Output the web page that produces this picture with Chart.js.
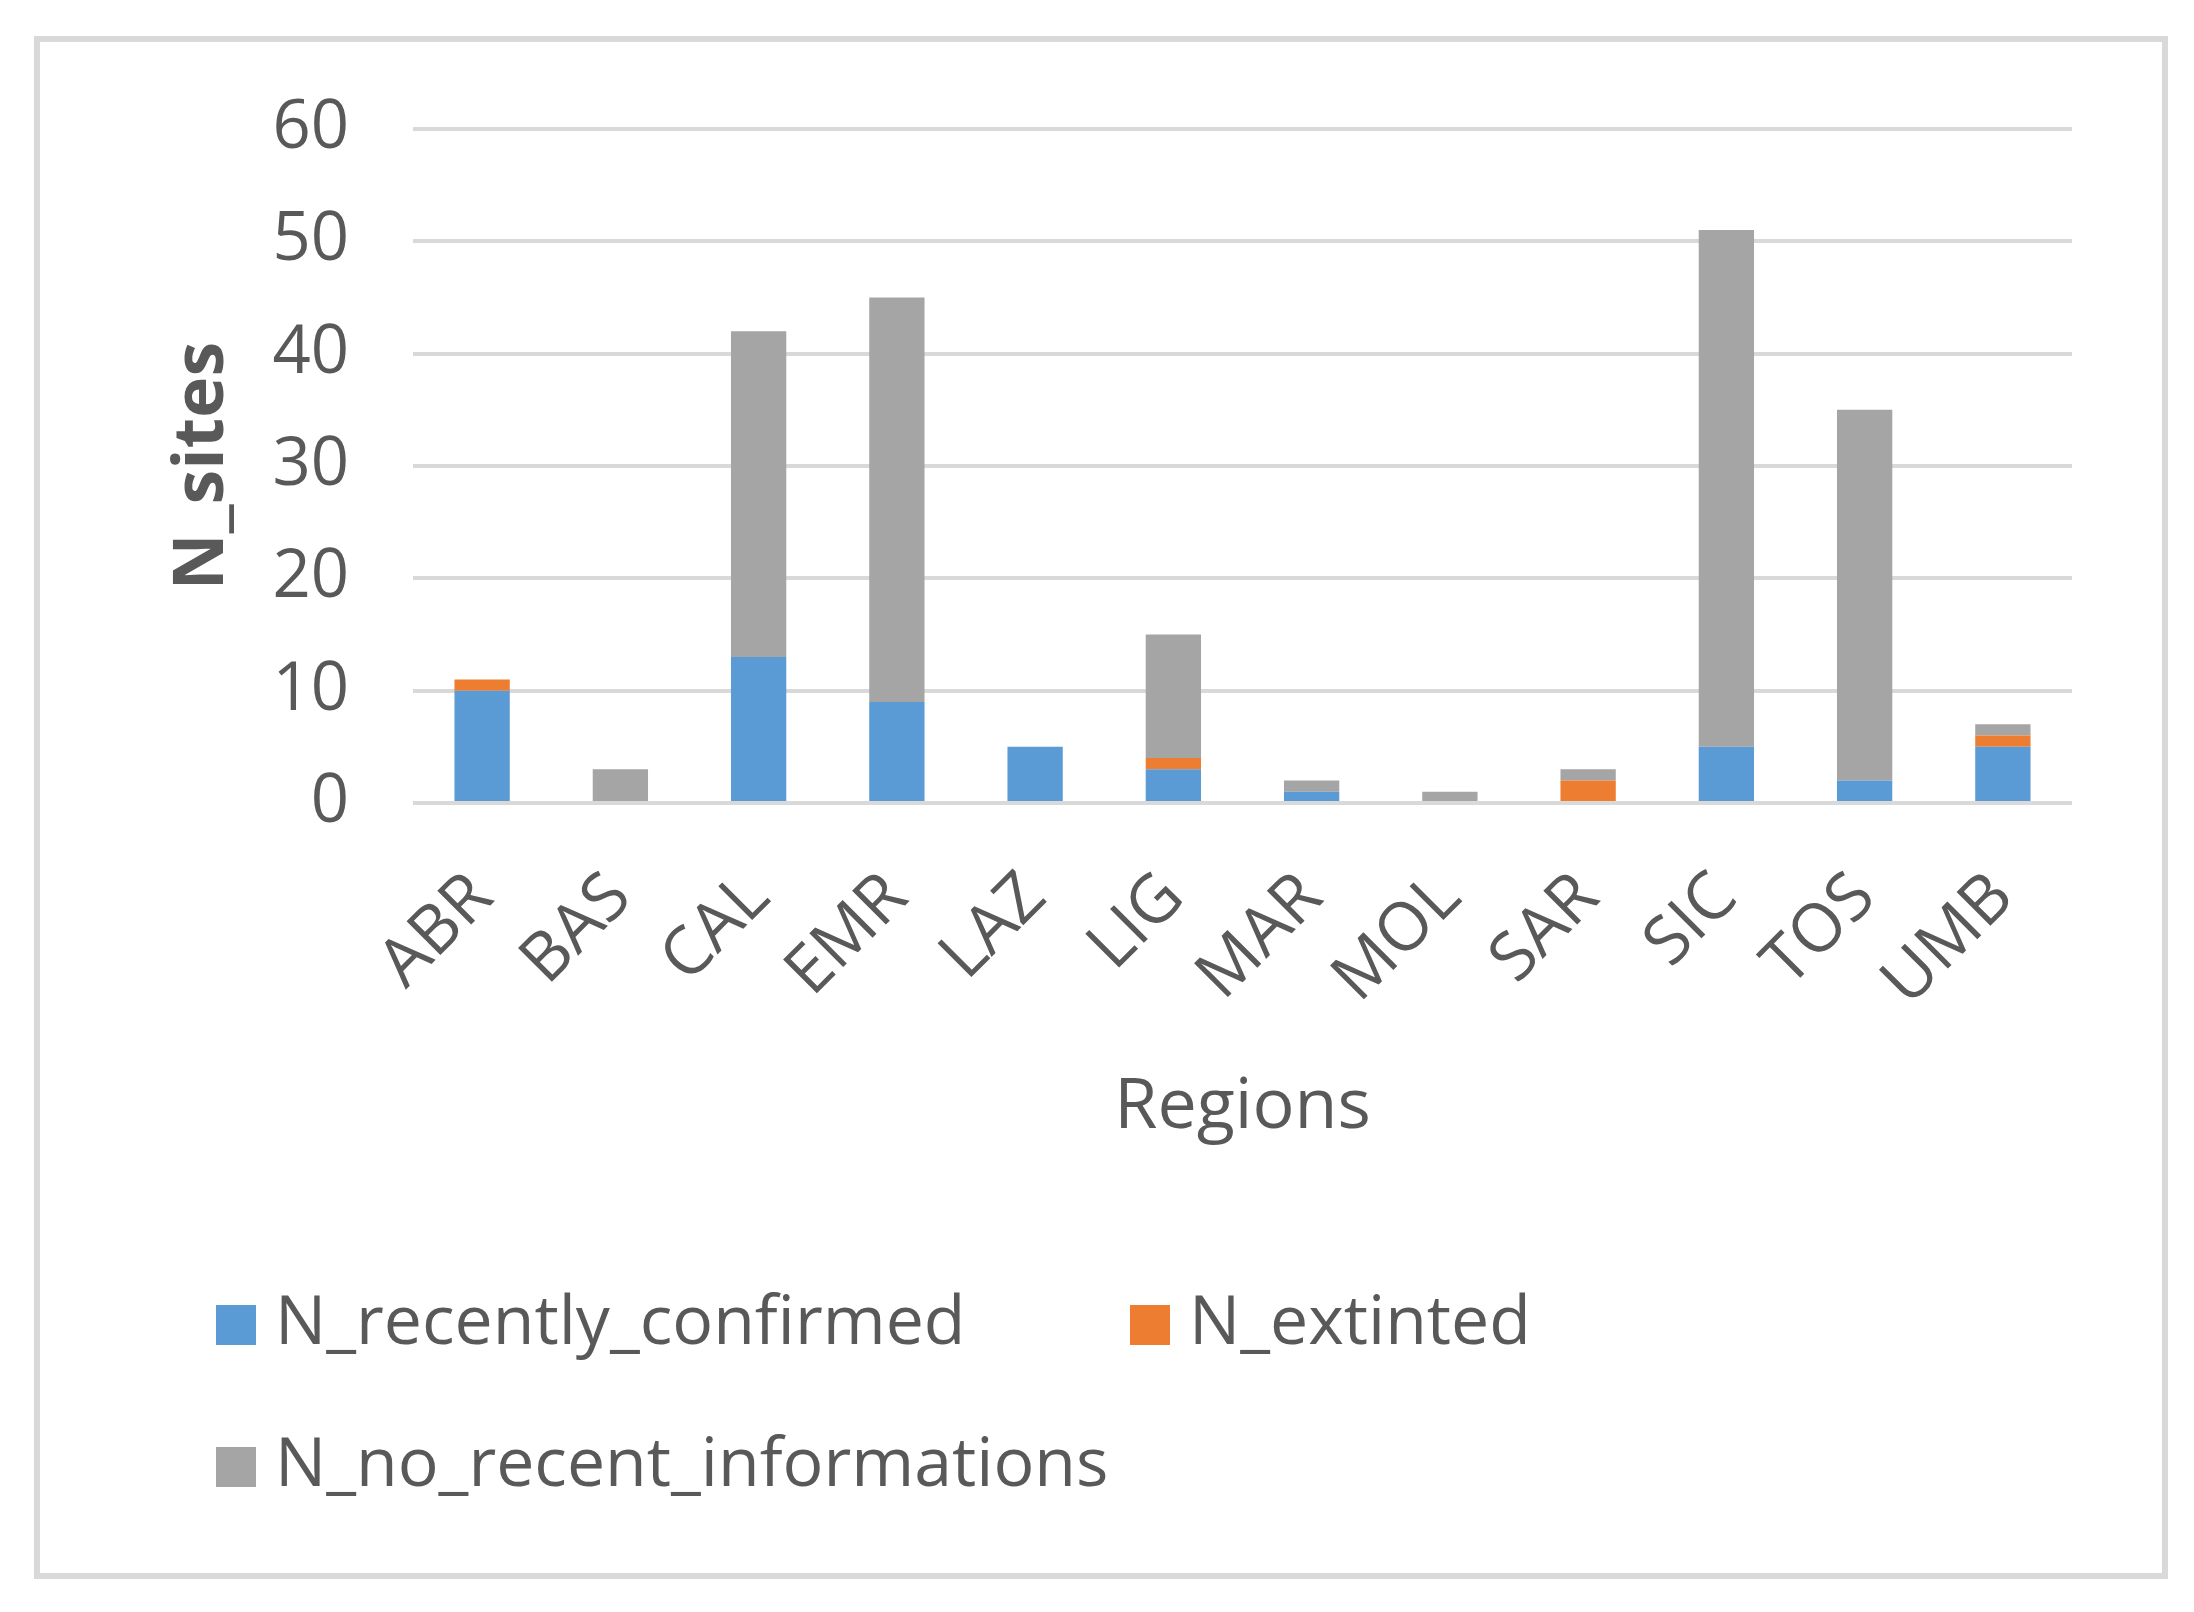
<!DOCTYPE html>
<html lang="en">
<head>
    <meta charset="UTF-8">
    <title>N_sites by region</title>
    <script src="https://cdn.jsdelivr.net/npm/chart.js"></script>
    <style>
        body {
            margin: 0;
            background: #ffffff;
            font-family: 'Open Sans', sans-serif;
        }
        .frame {
            position: absolute;
            left: 34px;
            top: 36px;
            width: 2134px;
            height: 1543px;
            border: 6px solid #d9d9d9;
            box-sizing: border-box;
            background: #ffffff;
        }
        .frame canvas {
            width: 100% !important;
            height: 100% !important;
        }
    </style>
</head>
<body>
    <div class="frame">
        <canvas id="sitesChart"></canvas>
    </div>

    <script>
        // Data
        const regions = ['ABR', 'BAS', 'CAL', 'EMR', 'LAZ', 'LIG', 'MAR', 'MOL', 'SAR', 'SIC', 'TOS', 'UMB'];
        const recentlyConfirmed = [10, 0, 13, 9, 5, 3, 1, 0, 0, 5, 2, 5];
        const extinted = [1, 0, 0, 0, 0, 1, 0, 0, 2, 0, 0, 1];
        const noRecentInfo = [0, 3, 29, 36, 0, 11, 1, 1, 1, 46, 33, 1];
        const seriesNames = ['N_recently_confirmed', 'N_extinted', 'N_no_recent_informations'];
        const seriesColors = ['#5b9bd5', '#ed7d31', '#a5a5a5'];

        const textColor = '#595959';
        const fontFamily = "'Open Sans', sans-serif";

        // Legend laid out like the original: two items on the first row, one on the second
        const legendSpots = [
            { x: 176, y: 1283 },
            { x: 1090, y: 1283 },
            { x: 176, y: 1425 }
        ];

        const bottomLegend = {
            id: 'bottomLegend',
            afterDraw(chart) {
                const ctx = chart.ctx;
                ctx.save();
                ctx.font = '68px ' + fontFamily;
                ctx.textBaseline = 'middle';
                ctx.textAlign = 'left';
                chart.data.datasets.forEach((ds, i) => {
                    const spot = legendSpots[i];
                    ctx.fillStyle = ds.backgroundColor;
                    ctx.fillRect(spot.x, spot.y - 20, 40, 40);
                    ctx.fillStyle = textColor;
                    ctx.fillText(ds.label, spot.x + 59, spot.y);
                });
                ctx.restore();
            }
        };

        const seriesData = [recentlyConfirmed, extinted, noRecentInfo];

        new Chart(document.getElementById('sitesChart'), {
            type: 'bar',
            data: {
                labels: regions,
                datasets: seriesData.map((values, i) => ({
                    label: seriesNames[i],
                    data: values,
                    backgroundColor: seriesColors[i],
                    borderWidth: 0,
                    categoryPercentage: 1.0,
                    barPercentage: 0.4
                }))
            },
            options: {
                responsive: true,
                maintainAspectRatio: false,
                animation: false,
                layout: {
                    padding: { left: 0, right: 90, top: 87, bottom: 410 }
                },
                plugins: {
                    legend: { display: false },
                    tooltip: { enabled: false }
                },
                scales: {
                    x: {
                        stacked: true,
                        grid: { display: false },
                        border: { display: false },
                        ticks: {
                            color: textColor,
                            font: { family: fontFamily, size: 67 },
                            autoSkip: false,
                            minRotation: 45,
                            maxRotation: 45,
                            padding: 47
                        },
                        title: {
                            display: true,
                            text: 'Regions',
                            color: textColor,
                            font: { family: fontFamily, size: 70 },
                            padding: { top: 0, bottom: 13 }
                        },
                        afterFit(scale) {
                            scale.height = 360;
                        }
                    },
                    y: {
                        stacked: true,
                        min: 0,
                        max: 60,
                        grid: {
                            color: '#d9d9d9',
                            lineWidth: 4,
                            drawTicks: false
                        },
                        border: { display: false },
                        ticks: {
                            stepSize: 10,
                            color: textColor,
                            font: { family: fontFamily, size: 67 },
                            padding: 64
                        },
                        title: {
                            display: true,
                            text: 'N_sites',
                            color: textColor,
                            font: { family: fontFamily, size: 70, weight: 'bold' },
                            padding: { top: 121, bottom: 0 }
                        },
                        afterFit(scale) {
                            scale.width = 373;
                            // let the layout padding decide where the plot starts
                            scale.paddingTop = 0;
                            scale.paddingBottom = 0;
                        }
                    }
                }
            },
            plugins: [bottomLegend]
        });
    </script>
</body>
</html>
